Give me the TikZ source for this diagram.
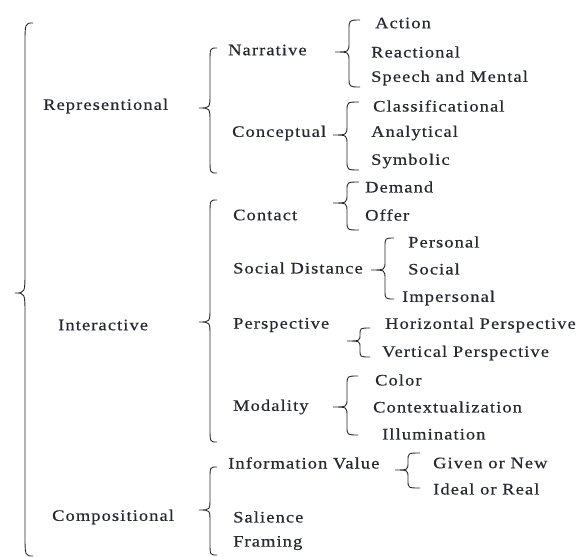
\documentclass[tikz,border=0pt]{standalone}
\usepackage{fontspec}
\setmainfont{Liberation Serif}[LetterSpace=7,FakeStretch=1.15,FakeBold=0.4]
\definecolor{ink}{HTML}{262830}
\newcommand\mybrace[7]{%
  \draw[bracestyle] (#2,#4) .. controls (#1,#4) .. (#1,#4+#7) -- (#1,#5-#7)
    .. controls (#1,#5) .. (#3,#5) .. controls (#1,#5) .. (#1,#5+#7)
    -- (#1,#6-#7) .. controls (#1,#6) .. (#2,#6);}
\begin{document}
\begin{tikzpicture}[x=1pt,y=-1pt,
  lbl/.style={anchor=west,inner sep=0pt,text=ink,font=\fontsize{16}{19}\selectfont},
  bracestyle/.style={draw=ink,line width=0.9pt}]
\useasboundingbox (0,0) rectangle (579,557);
% level 1
\node[lbl] (rep) at (43,106) {Representional};
\node[lbl] (int) at (58,325) {Interactive};
\node[lbl] (comp) at (52,517) {Compositional};
% level 2
\node[lbl] (narr) at (228,50) {Narrative};
\node[lbl] (conc) at (232,133) {Conceptual};
\node[lbl] (cont) at (233,215) {Contact};
\node[lbl] (sd) at (233,268) {Social Distance};
\node[lbl] (persp) at (233,325) {Perspective};
\node[lbl] (mod) at (233,407) {Modality};
\node[lbl] (iv) at (228,463) {Information Value};
\node[lbl] (sal) at (233,517) {Salience};
\node[lbl] (fram) at (233,543) {Framing};
% level 3
\node[lbl] (act) at (375,23) {Action};
\node[lbl] (reac) at (371,52) {Reactional};
\node[lbl] (spm) at (371,78) {Speech and Mental};
\node[lbl] (cls) at (373,106) {Classificational};
\node[lbl] (ana) at (371,133) {Analytical};
\node[lbl] (sym) at (371,161) {Symbolic};
\node[lbl] (dem) at (365,187) {Demand};
\node[lbl] (off) at (365,215) {Offer};
\node[lbl] (pers) at (408,242) {Personal};
\node[lbl] (soc) at (408,269) {Social};
\node[lbl] (imp) at (402,298) {Impersonal};
\node[lbl] (hor) at (385,325) {Horizontal Perspective};
\node[lbl] (ver) at (382,353) {Vertical Perspective};
\node[lbl] (col) at (375,380) {Color};
\node[lbl] (ctx) at (373,407) {Contextualization};
\node[lbl] (ill) at (382,434) {Illumination};
\node[lbl] (giv) at (433,463) {Given or New};
\node[lbl] (ide) at (433,489) {Ideal or Real};
% braces: xline, xend, xtip, ytop, ymid, ybot, r
\mybrace{25}{33}{15}{23}{293}{556}{22}
\mybrace{210}{217}{199}{48}{108}{173}{14}
\mybrace{210}{217}{199}{200}{322}{442}{14}
\mybrace{210}{217}{199}{467}{510}{555}{12}
\mybrace{349}{360}{335}{20}{52}{87}{10}
\mybrace{347}{359}{333}{102}{135}{170}{10}
\mybrace{347}{359}{333}{182}{203}{230}{9}
\mybrace{385}{394}{371}{238}{270}{299}{9}
\mybrace{360}{370}{347}{328}{341}{357}{7}
\mybrace{347}{358}{333}{376}{407}{435}{9}
\mybrace{408}{420}{395}{453}{470}{488}{8}
\end{tikzpicture}
\end{document}
